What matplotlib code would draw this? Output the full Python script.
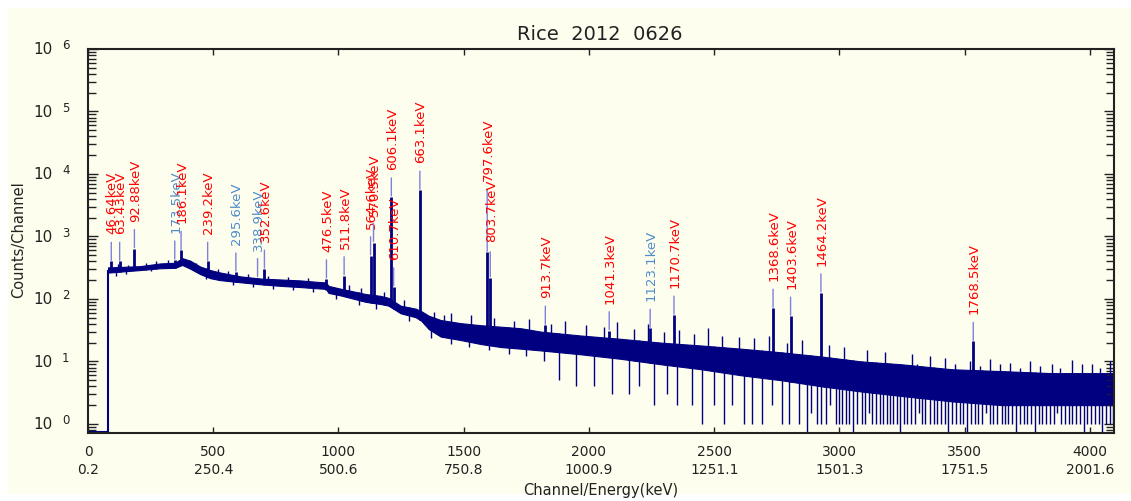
import numpy as np
import matplotlib.pyplot as plt
from matplotlib.patches import Rectangle

# energy calibration: keV = offset + gain * channel
n_channels = 4096
cal_offset = 0.2
cal_gain = 0.50035

tick_channels = [0, 500, 1000, 1500, 2000, 2500, 3000, 3500, 4000]
tick_energies = ['0.2', '250.4', '500.6', '750.8', '1000.9',
                 '1251.1', '1501.3', '1751.5', '2001.6']

# channels below the discriminator are empty
threshold_channel = 80
threshold_counts = 290

# continuum: upper / lower edge of the channel scatter
band_channels = [80, 84, 208, 288, 348, 376, 408, 448, 488, 528, 608, 688, 768,
                 848, 928, 950, 960, 1008, 1068, 1108, 1168, 1200, 1248, 1308,
                 1330, 1360, 1408, 1488, 1568, 1648, 1728, 1808, 1968, 2128,
                 2288, 2448, 2608, 2768, 2928, 3088, 3248, 3448, 3648, 3848, 4095]
band_hi = [320, 320, 335, 370, 380, 450, 410, 330, 290, 265, 230, 212, 205,
           198, 186, 184, 162, 146, 130, 120, 112, 104, 78, 70,
           64, 54, 46, 41, 38, 36, 34, 30, 26, 23,
           20, 18, 16, 14, 12, 10, 9, 7.5, 7, 6.5, 6.5]
band_lo = [265, 265, 290, 310, 315, 350, 305, 250, 215, 200, 185, 172, 162,
           155, 147, 145, 125, 114, 99, 90, 83, 78, 59, 51,
           45, 33, 25, 22, 19, 17, 16, 15, 13, 11,
           9, 7.5, 6, 5, 4, 3.3, 2.8, 2.3, 2, 2, 2]

# single-channel upward fluctuations
spike_channels = [120, 160, 230, 270, 320, 430, 520, 560, 640, 720, 800, 880,
                  1040, 1090, 1180, 1260, 1380, 1420,
                  1450, 1530, 1620, 1700, 1760, 1850, 1905, 1990, 2060, 2110,
                  2180, 2235, 2300, 2360, 2420, 2475, 2530, 2600, 2660, 2720,
                  2790, 2850, 2905, 2940, 2960, 3020, 3050, 3110, 3140, 3180,
                  3230, 3290, 3310, 3360, 3400, 3420, 3460, 3520, 3560, 3600,
                  3640, 3680, 3720, 3760, 3800, 3850, 3880, 3930, 3970, 4010,
                  4040, 4080]
spike_counts = [360, 350, 370, 400, 420, 370, 300, 280, 250, 235, 225, 215,
                165, 150, 130, 95, 62, 55,
                60, 55, 50, 45, 48, 40, 45, 38, 35, 42,
                33, 40, 30, 32, 28, 34, 26, 25, 24, 26,
                20, 22, 11, 11, 18, 17, 10, 15, 9, 14,
                8.5, 13, 9, 12, 8, 11.5, 9, 10, 8.5, 11,
                9, 9.5, 8, 10, 8.5, 9, 8, 10.5, 9, 9,
                8, 10]

# single-channel downward fluctuations (0 = empty channel)
drop_channels = [110, 150, 250, 470, 580, 660, 740, 820, 900, 990, 1080, 1150,
                 1280, 1370, 1450, 1520, 1600, 1680, 1750, 1820,
                 1880, 1950, 2020, 2090, 2160, 2200, 2260, 2310, 2350, 2410,
                 2450, 2500, 2540, 2570, 2620, 2650, 2690, 2730, 2770, 2800,
                 2840, 2870, 2885, 2910, 2925, 2945, 2962, 2985, 2997, 3010,
                 3027, 3040, 3056, 3070, 3088, 3100, 3117, 3130, 3146, 3160,
                 3174, 3190, 3203, 3215, 3229, 3240, 3257, 3270, 3284, 3300,
                 3316, 3330, 3343, 3360, 3377, 3390, 3406, 3420, 3433, 3450,
                 3467, 3480, 3494, 3510, 3526, 3540, 3553, 3570, 3586, 3600,
                 3613, 3630, 3647, 3660, 3674, 3690, 3706, 3720, 3737, 3750,
                 3764, 3780, 3796, 3810, 3823, 3840, 3857, 3870, 3884, 3900,
                 3916, 3930, 3944, 3960, 3977, 3990, 4004, 4020, 4036, 4050,
                 4066, 4080, 4091]
drop_counts = [235, 255, 280, 205, 170, 155, 145, 138, 130, 100, 80, 70,
               45, 24, 19, 17, 15, 13, 12, 10,
               5, 4, 4, 3, 3, 4, 2, 3, 2, 2,
               1, 2, 1, 2, 1, 1, 1, 2, 1, 1,
               1, 0, 1.5, 1, 1, 1, 2, 1, 1, 1,
               1, 1, 0, 1, 1, 1, 1.5, 1, 1, 1,
               1, 1, 1, 1, 1, 0, 1, 1, 1, 1,
               1.5, 1, 1, 1, 1, 1, 1, 1, 0, 1,
               1, 1, 1, 0, 1, 1, 1, 1, 1.5, 1,
               1, 1, 1, 1, 1, 1, 0, 1, 1, 1,
               1, 0, 1, 1, 1, 1, 1, 1.5, 1, 1,
               1, 1, 1, 1, 0, 1, 1, 1, 1, 0,
               1, 1, 1]

# identified lines
peak_energies = [46.64, 63.43, 92.88, 173.5, 186.1, 239.2, 295.6, 338.9, 352.6,
                 476.5, 511.8, 564.6, 570.5, 606.1, 610.7, 663.1, 797.6, 803.7,
                 913.7, 1041.3, 1123.1, 1170.7, 1368.6, 1403.6, 1464.2, 1768.5]
peak_counts = [400, 400, 640, 420, 600, 400, 270, 220, 300,
               210, 235, 490, 800, 4300, 156, 5500, 560, 218,
               38, 31, 34, 55, 71, 53, 125, 21]
peak_labels = ['46.64keV', '63.43keV', '92.88keV', '173.5keV', '186.1keV',
               '239.2keV', '295.6keV', '338.9keV', '352.6keV', '476.5keV',
               '511.8keV', '564.6keV', '570.5keV', '606.1keV', '610.7keV',
               '663.1keV', '797.6keV', '803.7keV', '913.7keV', '1041.3keV',
               '1123.1keV', '1170.7keV', '1368.6keV', '1403.6keV', '1464.2keV',
               '1768.5keV']
unknown_lines = {'173.5keV', '295.6keV', '338.9keV', '1123.1keV'}

NAVY = '#000080'
CREAM = '#fefeee'
INK = '#222222'
PX = 0.72  # points per pixel at 100 dpi

fig = plt.figure(figsize=(11.31, 5.01), dpi=100, facecolor='white')
fig.patches.append(Rectangle((8 / 1131, 7 / 501), 1, 486 / 501,
                             transform=fig.transFigure, facecolor=CREAM,
                             edgecolor='none', zorder=-10))
ax = fig.add_axes([88 / 1131, 1 - 433 / 501, 1026 / 1131, 384 / 501])
ax.set_facecolor(CREAM)

floor = 0.716
ax.set_yscale('log')
ax.set_xlim(0, n_channels)
ax.set_ylim(floor, 1e6)

# spectrum
ax.plot([0, threshold_channel], [floor * 1.02, floor * 1.02], color=NAVY, lw=1.5)
ax.vlines(threshold_channel, floor, threshold_counts, color=NAVY, lw=1.5)
ax.fill_between(band_channels, band_lo, band_hi, color=NAVY, lw=0.8)
spike_base = np.interp(spike_channels, band_channels, band_lo)
ax.vlines(spike_channels, spike_base, spike_counts, color=NAVY, lw=1.0)
drop_top = np.interp(drop_channels, band_channels, band_hi)
drop_low = np.maximum(np.array(drop_counts, dtype=float), floor)
ax.vlines(drop_channels, drop_low, drop_top, color=NAVY, lw=1.0)

peak_ch = (np.array(peak_energies) - cal_offset) / cal_gain
peak_base = np.interp(peak_ch, band_channels, band_lo)
ax.vlines(peak_ch, peak_base, peak_counts, color=NAVY, lw=2.0)

# line markers and labels
mark_len = {'797.6keV': 62, '803.7keV': 25}
text_gap = {'803.7keV': 10}
for ch, top, lab in zip(peak_ch, peak_counts, peak_labels):
    ln = mark_len.get(lab, 18)
    gap = text_gap.get(lab, 8)
    ax.annotate('', xy=(ch, top), xytext=(0, (ln + 1) * PX),
                textcoords='offset points',
                arrowprops=dict(arrowstyle='-', color='#7f7fdf', lw=1.0,
                                shrinkA=0, shrinkB=1 * PX))
    ax.annotate(lab, xy=(ch, top), xytext=(1 * PX, (ln + 1 + gap) * PX),
                textcoords='offset points', rotation=90, ha='center',
                va='bottom', fontsize=9.5,
                color='#4f8cc9' if lab in unknown_lines else '#ff0000')

# axes styling
for s in ax.spines.values():
    s.set_color(INK)
    s.set_linewidth(1.5)
ax.set_xticks(tick_channels)
ax.set_xticklabels([f'{c}\n{e}' for c, e in zip(tick_channels, tick_energies)],
                   fontsize=10, color=INK, linespacing=1.35)
ax.tick_params(axis='x', which='major', direction='in', length=6 * PX,
               width=1.0, top=True, color=INK, pad=9)
ax.tick_params(axis='x', which='minor', bottom=False, top=False)
ax.tick_params(axis='y', which='major', direction='in', length=10 * PX,
               width=1.0, right=True, color=INK, labelleft=False)
ax.tick_params(axis='y', which='minor', direction='in', length=8 * PX,
               width=1.0, right=True, color=INK, labelleft=False)

for e in range(0, 7):
    ax.annotate('10', xy=(0, 10 ** e), xycoords=('axes fraction', 'data'),
                xytext=(-35 * PX, -1 * PX), textcoords='offset points',
                ha='right', va='center', fontsize=11, color=INK)
    ax.annotate(str(e), xy=(0, 10 ** e), xycoords=('axes fraction', 'data'),
                xytext=(-26 * PX, 3 * PX), textcoords='offset points',
                ha='left', va='center', fontsize=8.5, color=INK)

fig.text(600 / 1131, 1 - 35 / 501, 'Rice  2012  0626', ha='center',
         va='center', fontsize=14, color=INK)
fig.text(19 / 1131, 1 - 240 / 501, 'Counts/Channel', rotation=90,
         ha='center', va='center', fontsize=10.5, color=INK)
fig.text(601 / 1131, 1 - 490 / 501, 'Channel/Energy(keV)', ha='center',
         va='center', fontsize=10.5, color=INK)

fig.savefig('out.png', dpi=100, facecolor=fig.get_facecolor())
